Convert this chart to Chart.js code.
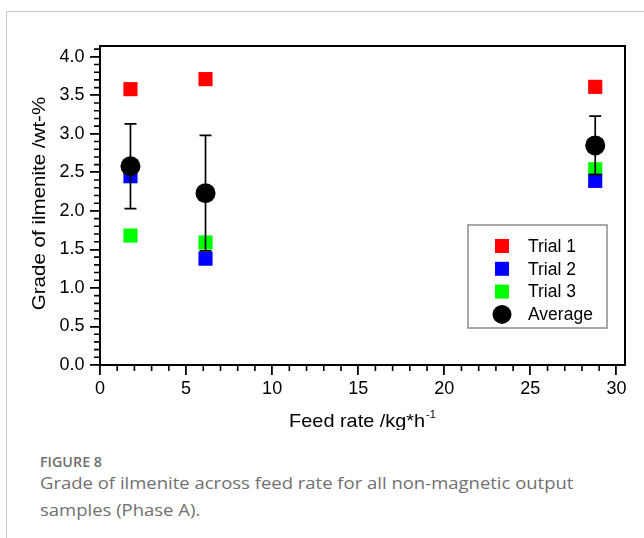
<!DOCTYPE html>
<html>
<head>
<meta charset="utf-8">
<script src="https://cdn.jsdelivr.net/npm/chart.js@4.4.1/dist/chart.umd.min.js"></script>
<style>
  html, body { margin: 0; padding: 0; background: #fff; }
  body { width: 644px; height: 538px; position: relative; overflow: hidden; }
  #card { position: absolute; left: 6px; top: 11px; width: 640px; height: 540px;
          border-top: 1px solid #c6c6c6; border-left: 1px solid #c6c6c6; }
  #wrap { position: absolute; left: 0; top: 0; width: 644px; height: 430px; }
  #fig { position: absolute; left: 40px; top: 453px; font-family: "Open Sans", "Noto Sans", sans-serif;
         color: #6f6f6f; font-size: 13.5px; font-weight: 600; transform: scaleX(1.06); transform-origin: 0 0; }
  #cap { position: absolute; left: 40px; top: 469px; width: 520px; font-family: "Open Sans", "Noto Sans", sans-serif;
         color: #707070; font-size: 16.5px; line-height: 27px; transform: scaleX(1.12); transform-origin: 0 0; }
</style>
</head>
<body>
<div id="card"></div>
<div id="wrap"><canvas id="c" width="644" height="430"></canvas></div>
<div id="fig">FIGURE 8</div>
<div id="cap">Grade of ilmenite across feed rate for all non-magnetic output samples (Phase A).</div>
<script>
// ---- data ----
const feedRates = [1.77, 6.13, 28.77];
const trial1 = [3.58, 3.71, 3.61];
const trial2 = [2.45, 1.38, 2.39];
const trial3 = [1.68, 1.59, 2.54];
const average = [2.58, 2.23, 2.85];
const averageErr = [0.55, 0.75, 0.38];
const seriesLabels = ["Trial 1", "Trial 2", "Trial 3", "Average"];
const xAxisTitle = "Feed rate /kg*h";
const xAxisTitleSup = "-1";
const yAxisTitle = "Grade of ilmenite /wt-%";

const FONT = '"Liberation Sans", Arial, sans-serif';
const toPts = ys => feedRates.map((x, i) => ({ x: x, y: ys[i] }));

const errorBars = {
  id: 'errorBars',
  beforeDatasetDraw(chart, args) {
    if (chart.data.datasets[args.index].label !== "Average") return;
    const ctx = chart.ctx, xs = chart.scales.x, ys = chart.scales.y;
    ctx.save();
    ctx.strokeStyle = '#000';
    ctx.lineWidth = 1.7;
    feedRates.forEach((fx, i) => {
      const px = xs.getPixelForValue(fx);
      const top = ys.getPixelForValue(average[i] + averageErr[i]);
      const bot = ys.getPixelForValue(average[i] - averageErr[i]);
      ctx.beginPath();
      ctx.moveTo(px, top); ctx.lineTo(px, bot);
      ctx.moveTo(px - 6, top); ctx.lineTo(px + 6, top);
      ctx.moveTo(px - 6, bot); ctx.lineTo(px + 6, bot);
      ctx.stroke();
    });
    ctx.restore();
  }
};

const frameAndExtras = {
  id: 'frameAndExtras',
  afterDraw(chart) {
    const ctx = chart.ctx, ca = chart.chartArea, xs = chart.scales.x, ys = chart.scales.y;
    ctx.save();
    // frame top/right
    ctx.strokeStyle = '#000';
    ctx.lineWidth = 2;
    ctx.beginPath();
    ctx.moveTo(ca.left, ca.top); ctx.lineTo(ca.right, ca.top); ctx.lineTo(ca.right, ca.bottom);
    ctx.stroke();
    // minor ticks
    ctx.lineWidth = 1.6;
    ctx.beginPath();
    for (let v = 1; v <= 30; v++) {
      if (v % 5 === 0) continue;
      const px = xs.getPixelForValue(v);
      ctx.moveTo(px, ca.bottom); ctx.lineTo(px, ca.bottom + 6);
    }
    for (let k = 1; k <= 41; k++) {
      if (k % 5 === 0) continue;
      const py = ys.getPixelForValue(k / 10);
      ctx.moveTo(ca.left, py); ctx.lineTo(ca.left - 6, py);
    }
    ctx.stroke();
    // x axis title with superscript
    ctx.fillStyle = '#000';
    const sx = 1.075;
    ctx.font = '18.5px ' + FONT;
    ctx.textBaseline = 'alphabetic';
    ctx.textAlign = 'left';
    const w1 = ctx.measureText(xAxisTitle).width * sx;
    ctx.font = '11px ' + FONT;
    const w2 = ctx.measureText(xAxisTitleSup).width;
    const cx = (ca.left + ca.right) / 2;
    const x0 = cx - (w1 + w2 + 1) / 2;
    ctx.save();
    ctx.translate(x0, ca.bottom + 62);
    ctx.scale(sx, 1);
    ctx.font = '18.5px ' + FONT;
    ctx.fillText(xAxisTitle, 0, 0);
    ctx.restore();
    ctx.font = '11px ' + FONT;
    ctx.fillText(xAxisTitleSup, x0 + w1 + 1, ca.bottom + 53);
    // y axis title (rotated)
    ctx.save();
    ctx.translate(40, (ca.top + ca.bottom) / 2 - 2);
    ctx.rotate(-Math.PI / 2);
    ctx.scale(1.11, 1);
    ctx.font = '18.5px ' + FONT;
    ctx.textAlign = 'center';
    ctx.textBaseline = 'middle';
    ctx.fillText(yAxisTitle, 0, 0);
    ctx.restore();
    // legend
    const bl = ca.right - 157, bt = ca.top + 179, bw = 139, bh = 103;
    ctx.strokeStyle = '#8c8c8c';
    ctx.lineWidth = 1.5;
    ctx.strokeRect(bl, bt, bw, bh);
    chart.data.datasets.forEach((ds, i) => {
      const y = bt + 21 + i * 22.8;
      const mx = bl + 34;
      ctx.fillStyle = ds.backgroundColor;
      if (ds.pointStyle === 'rect') {
        ctx.fillRect(mx - 7, y - 7, 14, 14);
      } else {
        ctx.beginPath(); ctx.arc(mx, y, 9.5, 0, Math.PI * 2); ctx.fill();
      }
      ctx.fillStyle = '#000';
      ctx.font = '17.5px ' + FONT;
      ctx.textAlign = 'left';
      ctx.textBaseline = 'middle';
      ctx.fillText(ds.label, bl + 60, y + 1);
    });
    ctx.restore();
  }
};

const mk = (label, ys, color, style, r, order) => ({
  label: label, data: toPts(ys), backgroundColor: color, borderColor: color,
  borderWidth: 0, pointStyle: style, pointRadius: r, pointHoverRadius: r, order: order
});

new Chart(document.getElementById('c'), {
  type: 'scatter',
  data: {
    datasets: [
      mk(seriesLabels[0], trial1, '#ff0000', 'rect', 10, 1),
      mk(seriesLabels[1], trial2, '#0000ff', 'rect', 10, 1),
      mk(seriesLabels[2], trial3, '#00ff00', 'rect', 10, 1),
      mk(seriesLabels[3], average, '#000000', 'circle', 10, 0)
    ]
  },
  options: {
    responsive: false,
    animation: false,
    layout: { padding: { left: 0, top: 46, right: 19, bottom: 0 } },
    plugins: { legend: { display: false }, tooltip: { enabled: false } },
    scales: {
      x: {
        type: 'linear', min: 0, max: 30.5,
        afterFit: s => { s.height = 65; },
        border: { display: true, color: '#000', width: 2 },
        grid: { drawOnChartArea: false, drawTicks: true, tickLength: 10, color: '#000', lineWidth: 1.8 },
        ticks: { stepSize: 5, includeBounds: false, autoSkip: false, maxRotation: 0, padding: 3,
                 color: '#000', font: { family: FONT, size: 18 } }
      },
      y: {
        type: 'linear', min: 0, max: 4.14,
        afterFit: s => { s.width = 100; },
        border: { display: true, color: '#000', width: 2 },
        grid: { drawOnChartArea: false, drawTicks: true, tickLength: 10, color: '#000', lineWidth: 1.8 },
        ticks: { stepSize: 0.5, includeBounds: false, autoSkip: false, padding: 5.5,
                 color: '#000', font: { family: FONT, size: 18 },
                 callback: v => Number(v).toFixed(1) }
      }
    }
  },
  plugins: [errorBars, frameAndExtras]
});
</script>
</body>
</html>
